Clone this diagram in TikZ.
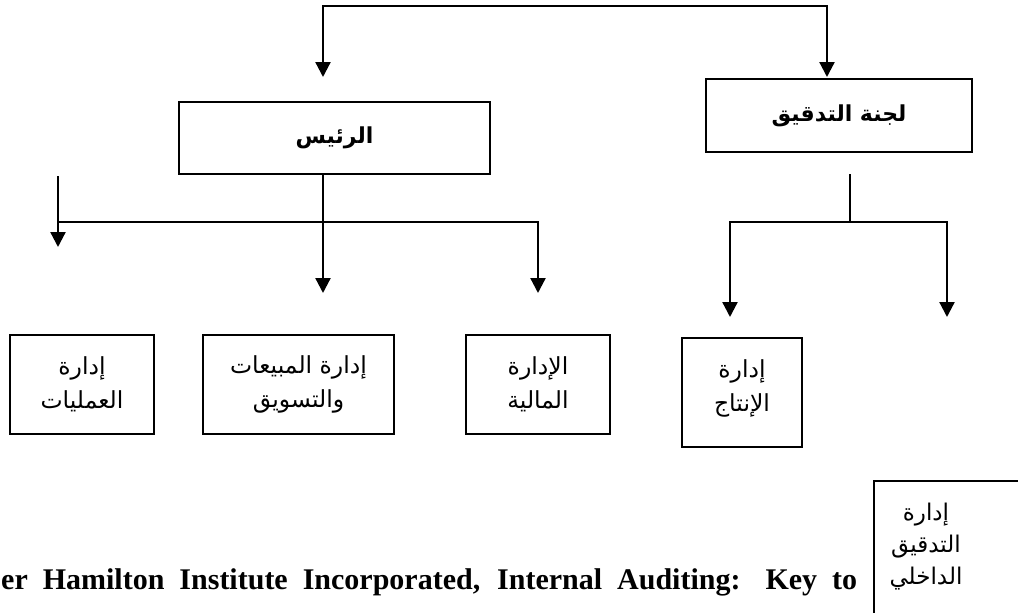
\documentclass[tikz,border=0pt]{standalone}
\usepackage{fontspec}
\setmainfont{Liberation Serif}
\newfontfamily\arabicfont[Script=Arabic]{DejaVu Sans}
\TeXXeTstate=1
\usetikzlibrary{arrows.meta}
\begin{document}
\begin{tikzpicture}[x=1pt,y=-1pt,
  box/.style={draw, line width=1.5pt, inner sep=0pt, align=center,
    font=\arabicfont\fontsize{23.5}{34}\selectfont},
  topbox/.style={box, font=\arabicfont\bfseries\fontsize{22}{26}\selectfont},
  stem/.style={line width=1.3pt},
  ln/.style={line width=2.3pt, line join=miter},
  arr/.style={ln, -{Triangle[width=15pt,length=15pt]}},
  arrs/.style={ln, {Triangle[width=15pt,length=15pt]}-{Triangle[width=15pt,length=15pt]}}]
\clip (0,0) rectangle (1018,613);
\fill[white] (0,0) rectangle (1018,613);

% top boxes
\node[topbox, minimum width=311pt, minimum height=72pt] (pres) at (334.5,138) {\beginR الرئيس\endR};
\node[topbox, minimum width=266pt, minimum height=73pt] (audit) at (839,115.5) {\beginR لجنة التدقيق\endR};

% bottom boxes
\node[box, minimum width=144pt, minimum height=99pt] (ops) at (82,384.5) {\beginR إدارة\endR\\\beginR العمليات\endR};
\node[box, minimum width=191pt, minimum height=99pt] (sales) at (298.5,384.5) {\beginR إدارة المبيعات\endR\\\beginR والتسويق\endR};
\node[box, minimum width=144pt, minimum height=99pt] (fin) at (538,384.5) {\beginR الإدارة\endR\\\beginR المالية\endR};
\node[box, minimum width=120pt, minimum height=109pt] (prod) at (742,392.5) {\beginR إدارة\endR\\\beginR الإنتاج\endR\rule[-14pt]{0pt}{0pt}};

% internal audit box (runs past the page edge)
\draw[line width=1.5pt] (874,650) -- (874,481) -- (1040,481);
\node[align=center, inner sep=0pt, font=\arabicfont\fontsize{23}{32}\selectfont] (intaud) at (926,547)
  {\beginR إدارة\endR\\\beginR التدقيق\endR\\\beginR الداخلي\endR};

% source text
\node[anchor=base west, inner sep=0pt, font=\bfseries\fontsize{30}{32}\selectfont] (src) at (1,589)
  {\makebox[856pt][s]{er Hamilton Institute Incorporated, Internal Auditing: Key to}};

% top connector
\coordinate (tl) at (323,6);
\coordinate (tr) at (827,6);
\coordinate (pin) at (323,77);
\coordinate (ain) at (827,77);
\draw[arrs] (pin) -- (tl) -- (tr) -- (ain);

% left tree
\coordinate (lL) at (58,176);
\coordinate (lLt) at (58,247);
\coordinate (lC) at (323,222);
\coordinate (lCt) at (323,293);
\coordinate (lR) at (538,222);
\coordinate (lRt) at (538,293);
\draw[stem] (pres.south -| lC) -- (lC);
\draw[arr] (lL |- lC) -- (lR) -- (lRt);
\draw[arr] (lL) -- (lLt);
\draw[arr] (lC) -- (lCt);

% right tree
\coordinate (rtop) at (850,174);
\coordinate (rC) at (850,222);
\coordinate (rL) at (730,222);
\coordinate (rR) at (947,222);
\coordinate (rLt) at (730,317);
\coordinate (rRt) at (947,317);
\draw[stem] (rtop) -- (rC);
\draw[arrs] (rLt) -- (rL) -- (rR) -- (rRt);
\end{tikzpicture}
\end{document}
